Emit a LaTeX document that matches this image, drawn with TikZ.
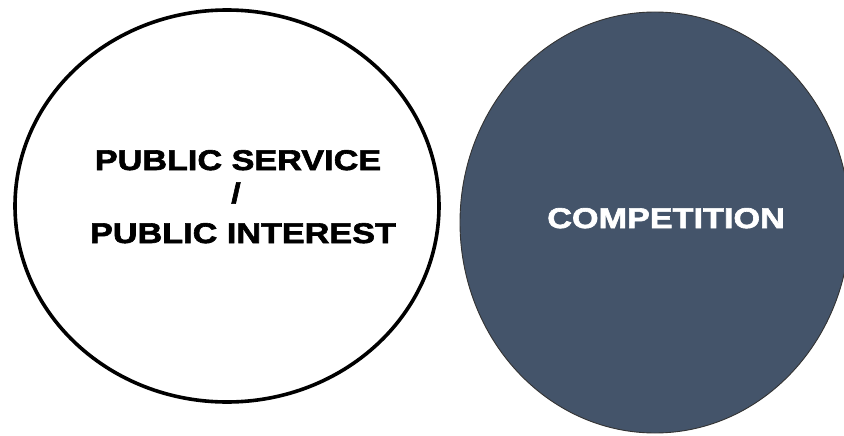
\documentclass[tikz,border=0pt]{standalone}
\usepackage{fontspec}
\usetikzlibrary{shapes.geometric}
\newfontfamily\lbl[FakeStretch=1.2,BoldFeatures={FakeStretch=1.2,FakeBold=2.2}]{Liberation Sans}
\definecolor{slate}{RGB}{68,84,106}
\begin{document}
\begin{tikzpicture}[x=1pt,y=1pt,
  lbltext/.style={font=\lbl\bfseries\fontsize{28.5}{30}\selectfont, inner sep=0pt, anchor=base},
  circ/.style={ellipse, inner sep=0pt, outer sep=0pt}]
\useasboundingbox[fill=white] (0,0) rectangle (844,-436);
\node[circ, draw=black, fill=white, line width=3.6pt, minimum width=424pt, minimum height=392pt] (ps) at (227,-206) {};
\node[circ, draw=black!80, fill=slate, line width=0.9pt, minimum width=390pt, minimum height=421pt] (comp) at (655,-222.5) {};
\node[lbltext] (l1) at (238,-170) {PUBLIC SERVICE};
\node[lbltext] (l2) at (236,-203) {/};
\node[lbltext] (l3) at (243,-243) {PUBLIC INTEREST};
\node[lbltext, text=white] (c1) at (666,-228) {COMPETITION};
\end{tikzpicture}
\end{document}
